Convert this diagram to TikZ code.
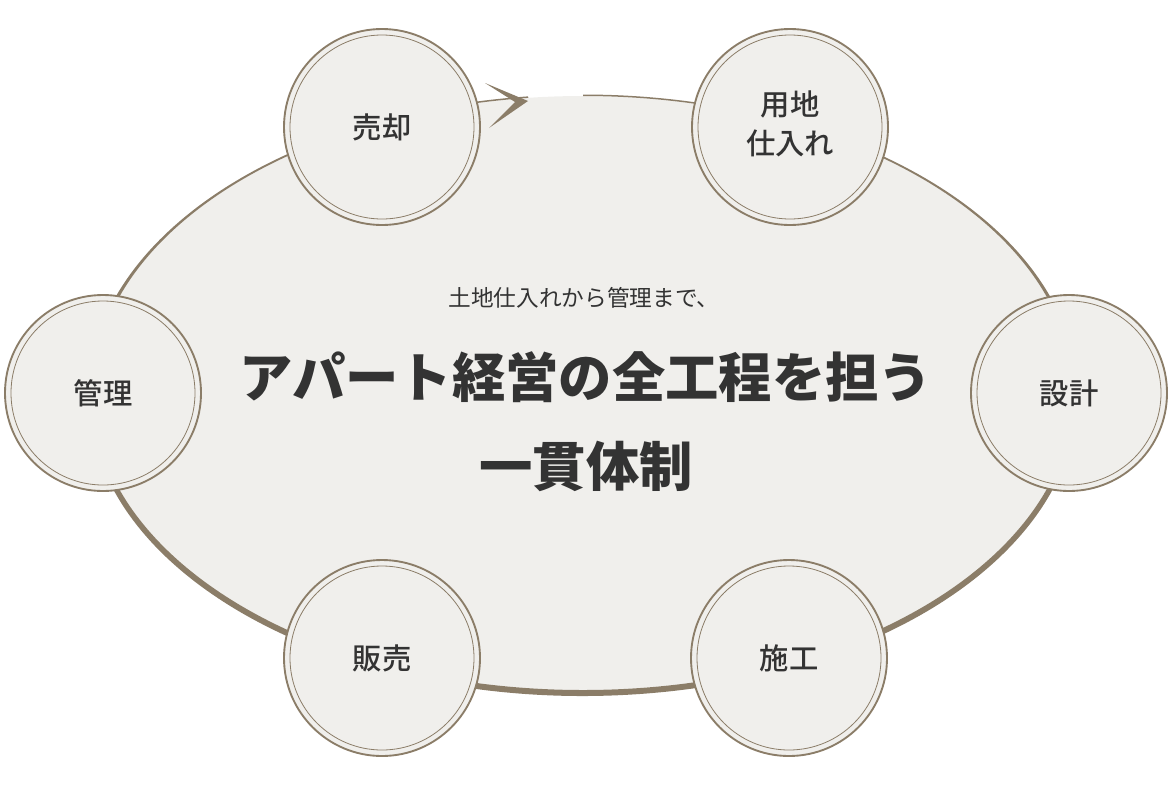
\documentclass[tikz,border=0pt]{standalone}
\usepackage{fontspec}
\newfontfamily\jpfont{Noto Sans CJK JP}
\newfontfamily\jpmedium{Noto Sans CJK JP Medium}
\definecolor{ringbrown}{HTML}{8B7D68}
\definecolor{paper}{HTML}{F0EFEC}
\definecolor{ink}{HTML}{333333}
\begin{document}
\begin{tikzpicture}[x=0.75pt, y=-0.75pt,
    stage/.style={circle, minimum size=147pt, inner sep=0pt, fill=paper,
      draw=ringbrown, line width=1.4pt, text=ink, align=center,
      font=\jpmedium\fontsize{22}{30}\selectfont,
      path picture={\draw[ringbrown, line width=0.6pt]
        (path picture bounding box.center) circle (92);}},
    lead/.style={text=ink, font=\jpfont\fontsize{17}{20}\selectfont},
    motto/.style={text=ink, align=center, font=\jpfont\bfseries\fontsize{40}{67}\selectfont}]
    \useasboundingbox (0,0) rectangle (1174,786);
    % the big oval
    \fill[paper] (583,393) ellipse [x radius=490, y radius=297];
    % its rim, thin on top and heavy below, open at the top
    \fill[ringbrown] ([shift={(583,393)}]270:490 and 297)
      arc[start angle=270, end angle=623.6, x radius=490, y radius=297]
      -- ([shift={(583,395.25)}]623.6:494.5 and 300.75)
      arc[start angle=623.6, end angle=270, x radius=494.5, y radius=300.75]
      -- cycle;
    % the arrow head at the open end
    \fill[ringbrown] (528,101) -- (485,83) -- (515,102) -- (489,128) -- cycle;
    % the steps round the oval
    \node[stage] (sell)   at (382,127)  {売却};
    \node[stage] (land)   at (790,127)  {\raisebox{7pt}{\shortstack{用地\\[5.5pt]仕入れ}}};
    \node[stage] (manage) at (103,393)  {管理};
    \node[stage] (design) at (1069,393) {設計};
    \node[stage] (sales)  at (382,658)  {販売};
    \node[stage] (build)  at (789,658)  {施工};
    % the texts in the middle
    \node[lead] (sub) at (584,298) {土地仕入れから管理まで、};
    \node[motto] (title) at (586,422) {アパート経営の全工程を担う\\一貫体制};
\end{tikzpicture}
\end{document}
